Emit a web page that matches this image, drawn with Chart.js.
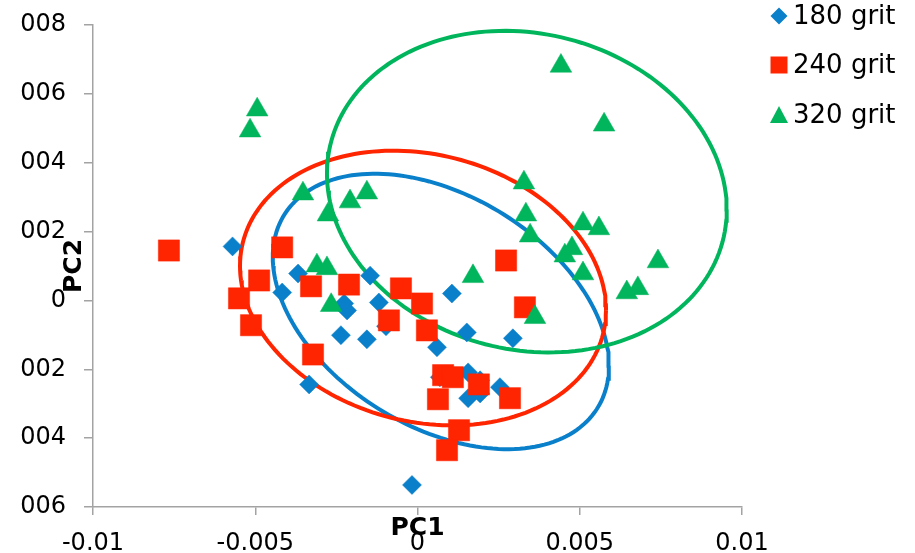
<!DOCTYPE html>
<html>
<head>
<meta charset="utf-8">
<script src="https://cdn.jsdelivr.net/npm/chart.js@4.4.1/dist/chart.umd.min.js"></script>
<style>
  html, body { margin: 0; padding: 0; background: #fff; }
  #wrap { width: 915px; height: 553px; position: relative; overflow: hidden; }
</style>
</head>
<body>
<div id="wrap"><canvas id="pcaChart" width="915" height="553"></canvas></div>
<script>
// series names
const seriesNames = ['180 grit', '240 grit', '320 grit'];

// 180 grit scores
const grit180X = [-0.0057, -0.00368, -0.00417, -0.00146, -0.00226, -0.00217, -0.00119, 0.00106, -0.00236, -0.00156, -0.00097,
  0.0006, 0.00152, 0.00294, -0.00334, -0.00017, 0.00156, 0.00069, 0.00193, 0.00254, 0.00156, 0.00193];
const grit180Y = [0.00157, 0.00078, 0.00023, 0.00072, -0.00009, -0.00029, -0.00006, 0.0002, -0.00101, -0.00113, -0.00075,
  -0.00136, -0.00093, -0.0011, -0.00244, -0.00536, -0.00209, -0.00223, -0.00232, -0.00252, -0.00284, -0.0027];

// 240 grit scores
const grit240X = [-0.00766, -0.00417, -0.00488, -0.0055, -0.00513, -0.00328, -0.00211, -0.00051, 0.00014, -0.00088, 0.00029,
  0.00273, 0.00331, -0.00322, 0.00079, 0.00109, 0.00189, 0.00285, 0.00063, 0.00128, 0.00091];
const grit240Y = [0.00145, 0.00154, 0.00058, 0.00006, -0.00072, 0.00041, 0.00046, 0.00035, -0.00009, -0.00058, -0.00087,
  0.00116, -0.0002, -0.00157, -0.00217, -0.00223, -0.00244, -0.00284, -0.00287, -0.00377, -0.00435];

// 320 grit scores
const grit320X = [-0.00494, -0.00516, -0.00353, -0.00276, -0.00208, -0.00156, -0.0031, -0.00279, -0.00266, 0.00171, 0.00328,
  0.00334, 0.00347, 0.00362, 0.00442, 0.00575, 0.0051, 0.00559, 0.00454, 0.00476, 0.0051, 0.00741, 0.00645, 0.00679];
const grit320Y = [0.00554, 0.00493, 0.0031, 0.00249, 0.00287, 0.00313, 0.00101, 0.00093, -0.00014, 0.0007, 0.00342,
  0.00249, 0.00188, -0.00049, 0.00681, 0.0051, 0.00223, 0.00209, 0.0013, 0.00151, 0.00078, 0.00113, 0.00023, 0.00035];

// group ellipses: centre x, centre y, half width, half height, y offset of the rightmost point
const ellipse180 = [0.00072, -0.00032, 0.00518, 0.0040, -0.00158];
const ellipse240 = [0.00017, 0.00036, 0.00564, 0.00399, -0.00064];
const ellipse320 = [0.00337, 0.00316, 0.00616, 0.00467, -0.00052];

// tick labels as they appear on the axes
const xTickLabels = ['-0.01', '-0.005', '0', '0.005', '0.01'];
const yTickLabels = ['006', '004', '002', '0', '002', '004', '006', '008'];

const colors = ['#0A80CA', '#FF2500', '#00B55C'];
const axisGray = '#A3A3A3';
const fontFamily = '"DejaVu Sans", Verdana, sans-serif';

function toPoints(xs, ys) {
  return xs.map((x, i) => ({ x: x, y: ys[i] }));
}

// outline of an ellipse from its centre and conjugate half axes
function ellipsePoints(e) {
  const [cx, cy, hw, hh, k] = e;
  const v = Math.sqrt(hh * hh - k * k);
  const pts = [];
  for (let i = 0; i <= 180; i++) {
    const t = (i / 180) * Math.PI * 2;
    pts.push({ x: cx + hw * Math.cos(t), y: cy + k * Math.cos(t) + v * Math.sin(t) });
  }
  return pts;
}

function scatterSet(label, pts, color, style, radius, order) {
  return {
    type: 'scatter',
    label: label,
    data: pts,
    pointStyle: style,
    pointRadius: radius,
    pointHoverRadius: radius,
    backgroundColor: color,
    borderColor: color,
    pointBorderWidth: 0.5,
    order: order
  };
}

function ellipseSet(pts, color, order) {
  return {
    type: 'line',
    data: pts,
    borderColor: color,
    borderWidth: 4,
    pointRadius: 0,
    fill: false,
    tension: 0,
    order: order
  };
}

const legendPlugin = {
  id: 'gritLegend',
  afterDraw(chart) {
    const ctx = chart.ctx;
    const rows = [16, 65, 115];
    const mx = 779;
    ctx.save();
    rows.forEach((y, i) => {
      ctx.fillStyle = colors[i];
      ctx.beginPath();
      if (i === 0) {
        ctx.moveTo(mx, y - 8.5); ctx.lineTo(mx + 8.5, y); ctx.lineTo(mx, y + 8.5); ctx.lineTo(mx - 8.5, y);
      } else if (i === 1) {
        ctx.rect(mx - 8.5, y - 8.5, 17, 17);
      } else {
        ctx.moveTo(mx, y - 9); ctx.lineTo(mx + 9, y + 8); ctx.lineTo(mx - 9, y + 8);
      }
      ctx.closePath();
      ctx.fill();
      ctx.fillStyle = '#000';
      ctx.font = '26px ' + fontFamily;
      ctx.textAlign = 'left';
      ctx.textBaseline = 'middle';
      ctx.fillText(seriesNames[i], 793, y + 1);
    });
    ctx.restore();
  }
};

const axisTitlePlugin = {
  id: 'axisTitles',
  afterDraw(chart) {
    const { ctx, chartArea } = chart;
    ctx.save();
    ctx.fillStyle = '#000';
    ctx.font = 'bold 25px ' + fontFamily;
    ctx.textAlign = 'center';
    ctx.textBaseline = 'middle';
    ctx.fillText('PC1', (chartArea.left + chartArea.right) / 2, chartArea.bottom + 21);
    ctx.translate(chartArea.left - 19, (chartArea.top + chartArea.bottom) / 2);
    ctx.rotate(-Math.PI / 2);
    ctx.fillText('PC2', 0, 0);
    ctx.restore();
  }
};

const ctx = document.getElementById('pcaChart');

new Chart(ctx, {
  type: 'scatter',
  data: {
    datasets: [
      scatterSet(seriesNames[2], toPoints(grit320X, grit320Y), colors[2], 'triangle', 12.5, 1),
      scatterSet(seriesNames[1], toPoints(grit240X, grit240Y), colors[1], 'rect', 15, 2),
      scatterSet(seriesNames[0], toPoints(grit180X, grit180Y), colors[0], 'rectRot', 9.5, 3),
      ellipseSet(ellipsePoints(ellipse320), colors[2], 4),
      ellipseSet(ellipsePoints(ellipse240), colors[1], 5),
      ellipseSet(ellipsePoints(ellipse180), colors[0], 6)
    ]
  },
  options: {
    responsive: false,
    animation: false,
    events: [],
    layout: { padding: { left: 0, right: 173, top: 25, bottom: 0 } },
    plugins: {
      legend: { display: false },
      tooltip: { enabled: false }
    },
    scales: {
      x: {
        type: 'linear',
        min: -0.01,
        max: 0.01,
        ticks: {
          stepSize: 0.005,
          autoSkip: false,
          maxRotation: 0,
          padding: 14,
          color: '#000',
          font: { size: 24, family: fontFamily },
          callback: (v, i) => xTickLabels[i]
        },
        grid: { drawOnChartArea: false, drawTicks: true, tickLength: 8, color: axisGray, lineWidth: 1.5 },
        border: { display: true, color: axisGray, width: 1.5 },
        afterFit: (s) => { s.height = 46; }
      },
      y: {
        type: 'linear',
        min: -0.006,
        max: 0.008,
        ticks: {
          stepSize: 0.002,
          autoSkip: false,
          padding: 18,
          color: '#000',
          font: { size: 24, family: fontFamily },
          callback: (v, i) => yTickLabels[i]
        },
        grid: { drawOnChartArea: false, drawTicks: true, tickLength: 9, color: axisGray, lineWidth: 1.5 },
        border: { display: true, color: axisGray, width: 1.5 },
        afterFit: (s) => { s.width = 93; s.paddingTop = 0; s.paddingBottom = 0; }
      }
    }
  },
  plugins: [legendPlugin, axisTitlePlugin]
});
</script>
</body>
</html>
